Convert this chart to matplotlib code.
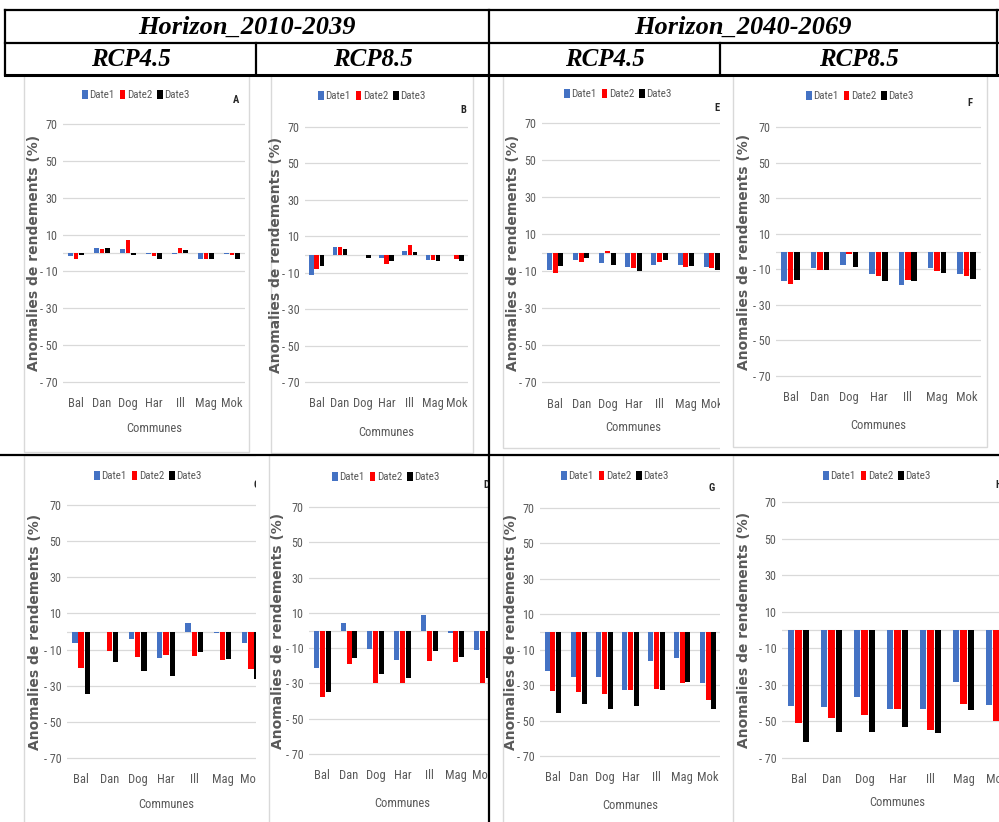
import numpy as np
import matplotlib as mpl

mpl.use("Agg")

import matplotlib.pyplot as plt
from matplotlib import font_manager as fm
from matplotlib.patches import Rectangle
from matplotlib.lines import Line2D

# ================================
# 0. data
# ================================
communes = ["Bal", "Dan", "Dog", "Har", "Ill", "Mag", "Mok"]
dates = ["Date1", "Date2", "Date3"]
ytick_vals = [-70, -50, -30, -10, 10, 30, 50, 70]
ytick_labels = ["- 70", "- 50", "- 30", "- 10", "10", "30", "50", "70"]

horizons = ["Horizon_2010-2039", "Horizon_2040-2069"]
scenarios = ["RCP4.5", "RCP8.5", "RCP4.5", "RCP8.5"]

# Horizon 2010-2039, RCP4.5, top row
A_d1 = [-1.5, 2.5, 2.0, -0.5, -0.5, -3.0, -0.3]
A_d2 = [-3.0, 2.0, 7.0, -1.5, 2.5, -3.5, -1.0]
A_d3 = [-1.0, 2.5, -1.0, -3.0, 1.5, -3.5, -3.5]
# Horizon 2010-2039, RCP8.5, top row
B_d1 = [-11.0, 4.0, 0.0, -2.0, 2.0, -3.0, -0.5]
B_d2 = [-8.0, 4.0, -0.5, -5.0, 5.0, -3.0, -2.5]
B_d3 = [-6.5, 3.0, -2.0, -3.5, 1.5, -3.5, -3.5]
# Horizon 2040-2069, RCP4.5, top row
E_d1 = [-9.5, -4.0, -5.5, -8.0, -7.0, -6.5, -8.0]
E_d2 = [-11.0, -5.0, 1.0, -8.5, -5.0, -8.0, -8.5]
E_d3 = [-7.5, -3.0, -6.5, -10.0, -4.0, -7.5, -9.5]
# Horizon 2040-2069, RCP8.5, top row
F_d1 = [-16.5, -9.5, -7.5, -12.5, -19.0, -9.5, -12.5]
F_d2 = [-18.5, -10.5, -1.5, -13.5, -16.0, -11.0, -13.5]
F_d3 = [-16.0, -10.5, -8.5, -16.5, -16.5, -12.0, -15.5]
# Horizon 2010-2039, RCP4.5, bottom row
C_d1 = [-6.5, -0.5, -4.0, -14.5, 4.5, -0.8, -6.5]
C_d2 = [-20.0, -11.0, -14.0, -13.0, -13.5, -16.0, -21.0]
C_d3 = [-34.5, -17.0, -22.0, -24.5, -11.5, -15.0, -26.5]
# Horizon 2010-2039, RCP8.5, bottom row
D_d1 = [-21.0, 4.5, -10.5, -16.5, 9.0, -1.5, -11.0]
D_d2 = [-37.5, -19.0, -29.5, -29.5, -17.5, -18.0, -29.5]
D_d3 = [-35.0, -15.5, -24.5, -27.0, -11.5, -15.0, -27.0]
# Horizon 2040-2069, RCP4.5, bottom row
G_d1 = [-22.0, -25.5, -25.5, -32.5, -16.5, -14.5, -29.0]
G_d2 = [-33.5, -34.0, -35.0, -32.5, -32.0, -29.0, -38.5]
G_d3 = [-45.5, -40.5, -43.5, -41.5, -33.0, -28.0, -43.5]
# Horizon 2040-2069, RCP8.5, bottom row
H_d1 = [-41.5, -42.0, -36.5, -43.0, -43.0, -28.5, -41.0]
H_d2 = [-51.0, -48.0, -46.5, -43.0, -54.5, -40.5, -49.5]
H_d3 = [-61.0, -56.0, -56.0, -53.0, -56.5, -44.0, -58.0]

# ================================
# 1. style
# ================================
W, H = 999, 822
colors = ["#4472C4", "#FF0000", "#000000"]
GRAY = "#595959"
GRID = "#D9D9D9"
SERIF = ["Liberation Serif", "DejaVu Serif"]
YL = 72

# narrow sans for the Excel-like labels: pick what is installed
_ttf = fm.fontManager.ttflist
_names = {f.name for f in _ttf}
if "Liberation Sans Narrow" in _names:
    NARROW = {"family": "Liberation Sans Narrow"}
    NSCALE = 1.0
elif "Roboto Condensed" in _names:
    NARROW = {"family": "Roboto Condensed"}
    NSCALE = 0.95
elif any(f.name == "DejaVu Sans" and "condensed" in str(f.stretch) for f in _ttf):
    NARROW = {"family": "DejaVu Sans", "stretch": "condensed"}
    NSCALE = 0.9
else:
    NARROW = {"family": "Liberation Sans"}
    NSCALE = 0.82


def nfont(size, **kw):
    return fm.FontProperties(size=size * NSCALE, **NARROW, **kw)


def fx(x):
    return x / W


def fy(y):
    return 1 - y / H


fig = plt.figure(figsize=(W / 100, H / 100), dpi=100)

# panel layout in pixels: cell, chart box, plot (left, right, y of 70, y of -70),
# legend centre, y-label x, "Communes" y, letter position
panels = [
    ("A", (A_d1, A_d2, A_d3), (0, 256, 75, 455), (24, 249, 75, 452), (63, 245, 124, 382), (136, 95), 34, 428, (236, 100)),
    ("B", (B_d1, B_d2, B_d3), (256, 489, 75, 455), (271, 473, 75, 453), (305, 468, 127, 382), (372, 96), 276, 432, (463, 110)),
    ("E", (E_d1, E_d2, E_d3), (489, 720, 75, 455), (503, 735, 75, 448), (542, 725, 123, 382), (618, 94), 513, 427, (717, 108)),
    ("F", (F_d1, F_d2, F_d3), (720, 999, 75, 455), (733, 987, 75, 447), (776, 981, 127, 376), (860, 96), 744, 425, (970, 103)),
    ("C", (C_d1, C_d2, C_d3), (0, 256, 455, 822), (24, 270, 455, 830), (67, 265, 505, 758), (148, 476), 35, 804, (256, 485)),
    ("D", (D_d1, D_d2, D_d3), (256, 489, 455, 822), (269, 500, 455, 830), (309, 496, 507, 754), (386, 477), 278, 803, (486, 485)),
    ("G", (G_d1, G_d2, G_d3), (489, 720, 455, 822), (503, 734, 455, 830), (540, 721, 508, 756), (615, 476), 511, 805, (712, 488)),
    ("H", (H_d1, H_d2, H_d3), (720, 999, 455, 822), (733, 1020, 455, 830), (782, 1013, 502, 758), (877, 476), 744, 802, (999, 485)),
]

x = np.arange(len(communes))
for i, (letter, series, cell, box, plot, leg, ylx, comm_y, lpos) in enumerate(panels):
    z = 10 * (i + 1)
    # white cell hides overflow of the previous panel
    fig.add_artist(Rectangle((fx(cell[0]), fy(cell[3])), fx(cell[1] - cell[0]), (cell[3] - cell[2]) / H,
                             transform=fig.transFigure, facecolor="white", edgecolor="none", zorder=z))
    fig.add_artist(Rectangle((fx(box[0]), fy(box[3])), fx(box[1] - box[0]), (box[3] - box[2]) / H,
                             transform=fig.transFigure, facecolor="none", edgecolor=GRID, lw=1, zorder=z + 1))

    x0, x1, y70, ym70 = plot
    ppu = (ym70 - y70) / 140.0
    top = y70 - (YL - 70) * ppu
    bot = ym70 + (YL - 70) * ppu
    ax = fig.add_axes([fx(x0), fy(bot), fx(x1 - x0), (bot - top) / H])
    ax.set_zorder(z + 2)
    ax.patch.set_alpha(0)

    for k in range(3):
        ax.bar(x + (k - 1) * 0.22, series[k], width=0.19, color=colors[k], label=dates[k], zorder=3)

    ax.set_xlim(-0.5, len(communes) - 0.5)
    ax.set_ylim(-YL, YL)
    ax.set_yticks(ytick_vals)
    ax.set_yticklabels(ytick_labels)
    ax.set_xticks(x)
    ax.set_xticklabels(communes)
    ax.yaxis.grid(True, color=GRID, lw=0.9)
    ax.axhline(0, color=GRID, lw=0.9, zorder=1)
    ax.set_axisbelow(True)
    for s in ax.spines.values():
        s.set_visible(False)
    ax.tick_params(axis="both", length=0, colors=GRAY)
    ax.tick_params(axis="y", pad=4)
    ax.tick_params(axis="x", pad=8.5)
    for lab in ax.get_yticklabels():
        lab.set_fontproperties(nfont(9.2))
    for lab in ax.get_xticklabels():
        lab.set_fontproperties(nfont(9.5))

    ax.legend(loc="center", bbox_to_anchor=(fx(leg[0]), fy(leg[1])), bbox_transform=fig.transFigure,
              ncol=3, frameon=False, prop=nfont(8.3), labelcolor=GRAY,
              handlelength=0.5, handleheight=1.0, handletextpad=0.15, columnspacing=0.45,
              borderpad=0, borderaxespad=0)

    ax.text(fx(ylx), fy((y70 + ym70) / 2), "Anomalies de rendements (%)", transform=fig.transFigure,
            rotation=90, ha="center", va="center", color=GRAY, fontsize=10, fontweight="bold")
    ax.text(fx((x0 + x1) / 2), fy(comm_y), "Communes", transform=fig.transFigure,
            ha="center", va="center", color=GRAY, fontproperties=nfont(9.5))
    ax.text(fx(lpos[0]), fy(lpos[1]), letter, transform=fig.transFigure,
            ha="center", va="center", color="#262626", fontproperties=nfont(8, weight="bold"))

# ================================
# 2. table header and rules
# ================================
LZ = 1000


def hline(y, xa, xb, lw=1.6):
    fig.add_artist(Line2D([fx(xa), fx(xb)], [fy(y), fy(y)], transform=fig.transFigure,
                          color="black", lw=lw, zorder=LZ))


def vline(xp, ya, yb, lw=1.6):
    fig.add_artist(Line2D([fx(xp), fx(xp)], [fy(ya), fy(yb)], transform=fig.transFigure,
                          color="black", lw=lw, zorder=LZ))


hline(10, 5, 998)
hline(43, 5, 998)
hline(75, 5, 998, lw=2.2)
hline(455, 0, 999)
vline(5, 10, 75)
vline(997, 10, 75)
vline(489, 10, 822)
vline(256, 43, 75)
vline(720, 43, 75)

for j, name in enumerate(horizons):
    cx = [(5 + 489) / 2, (489 + 997) / 2][j]
    fig.text(fx(cx), fy(27), name, ha="center", va="center", fontsize=19,
             fontweight="bold", style="italic", family=SERIF, zorder=LZ)
for j, name in enumerate(scenarios):
    cx = [(5 + 256) / 2, (256 + 489) / 2, (489 + 720) / 2, (720 + 997) / 2][j]
    fig.text(fx(cx), fy(59), name, ha="center", va="center", fontsize=18,
             fontweight="bold", style="italic", family=SERIF, zorder=LZ)

fig.savefig("out.png", dpi=100, facecolor="white")
plt.close(fig)
